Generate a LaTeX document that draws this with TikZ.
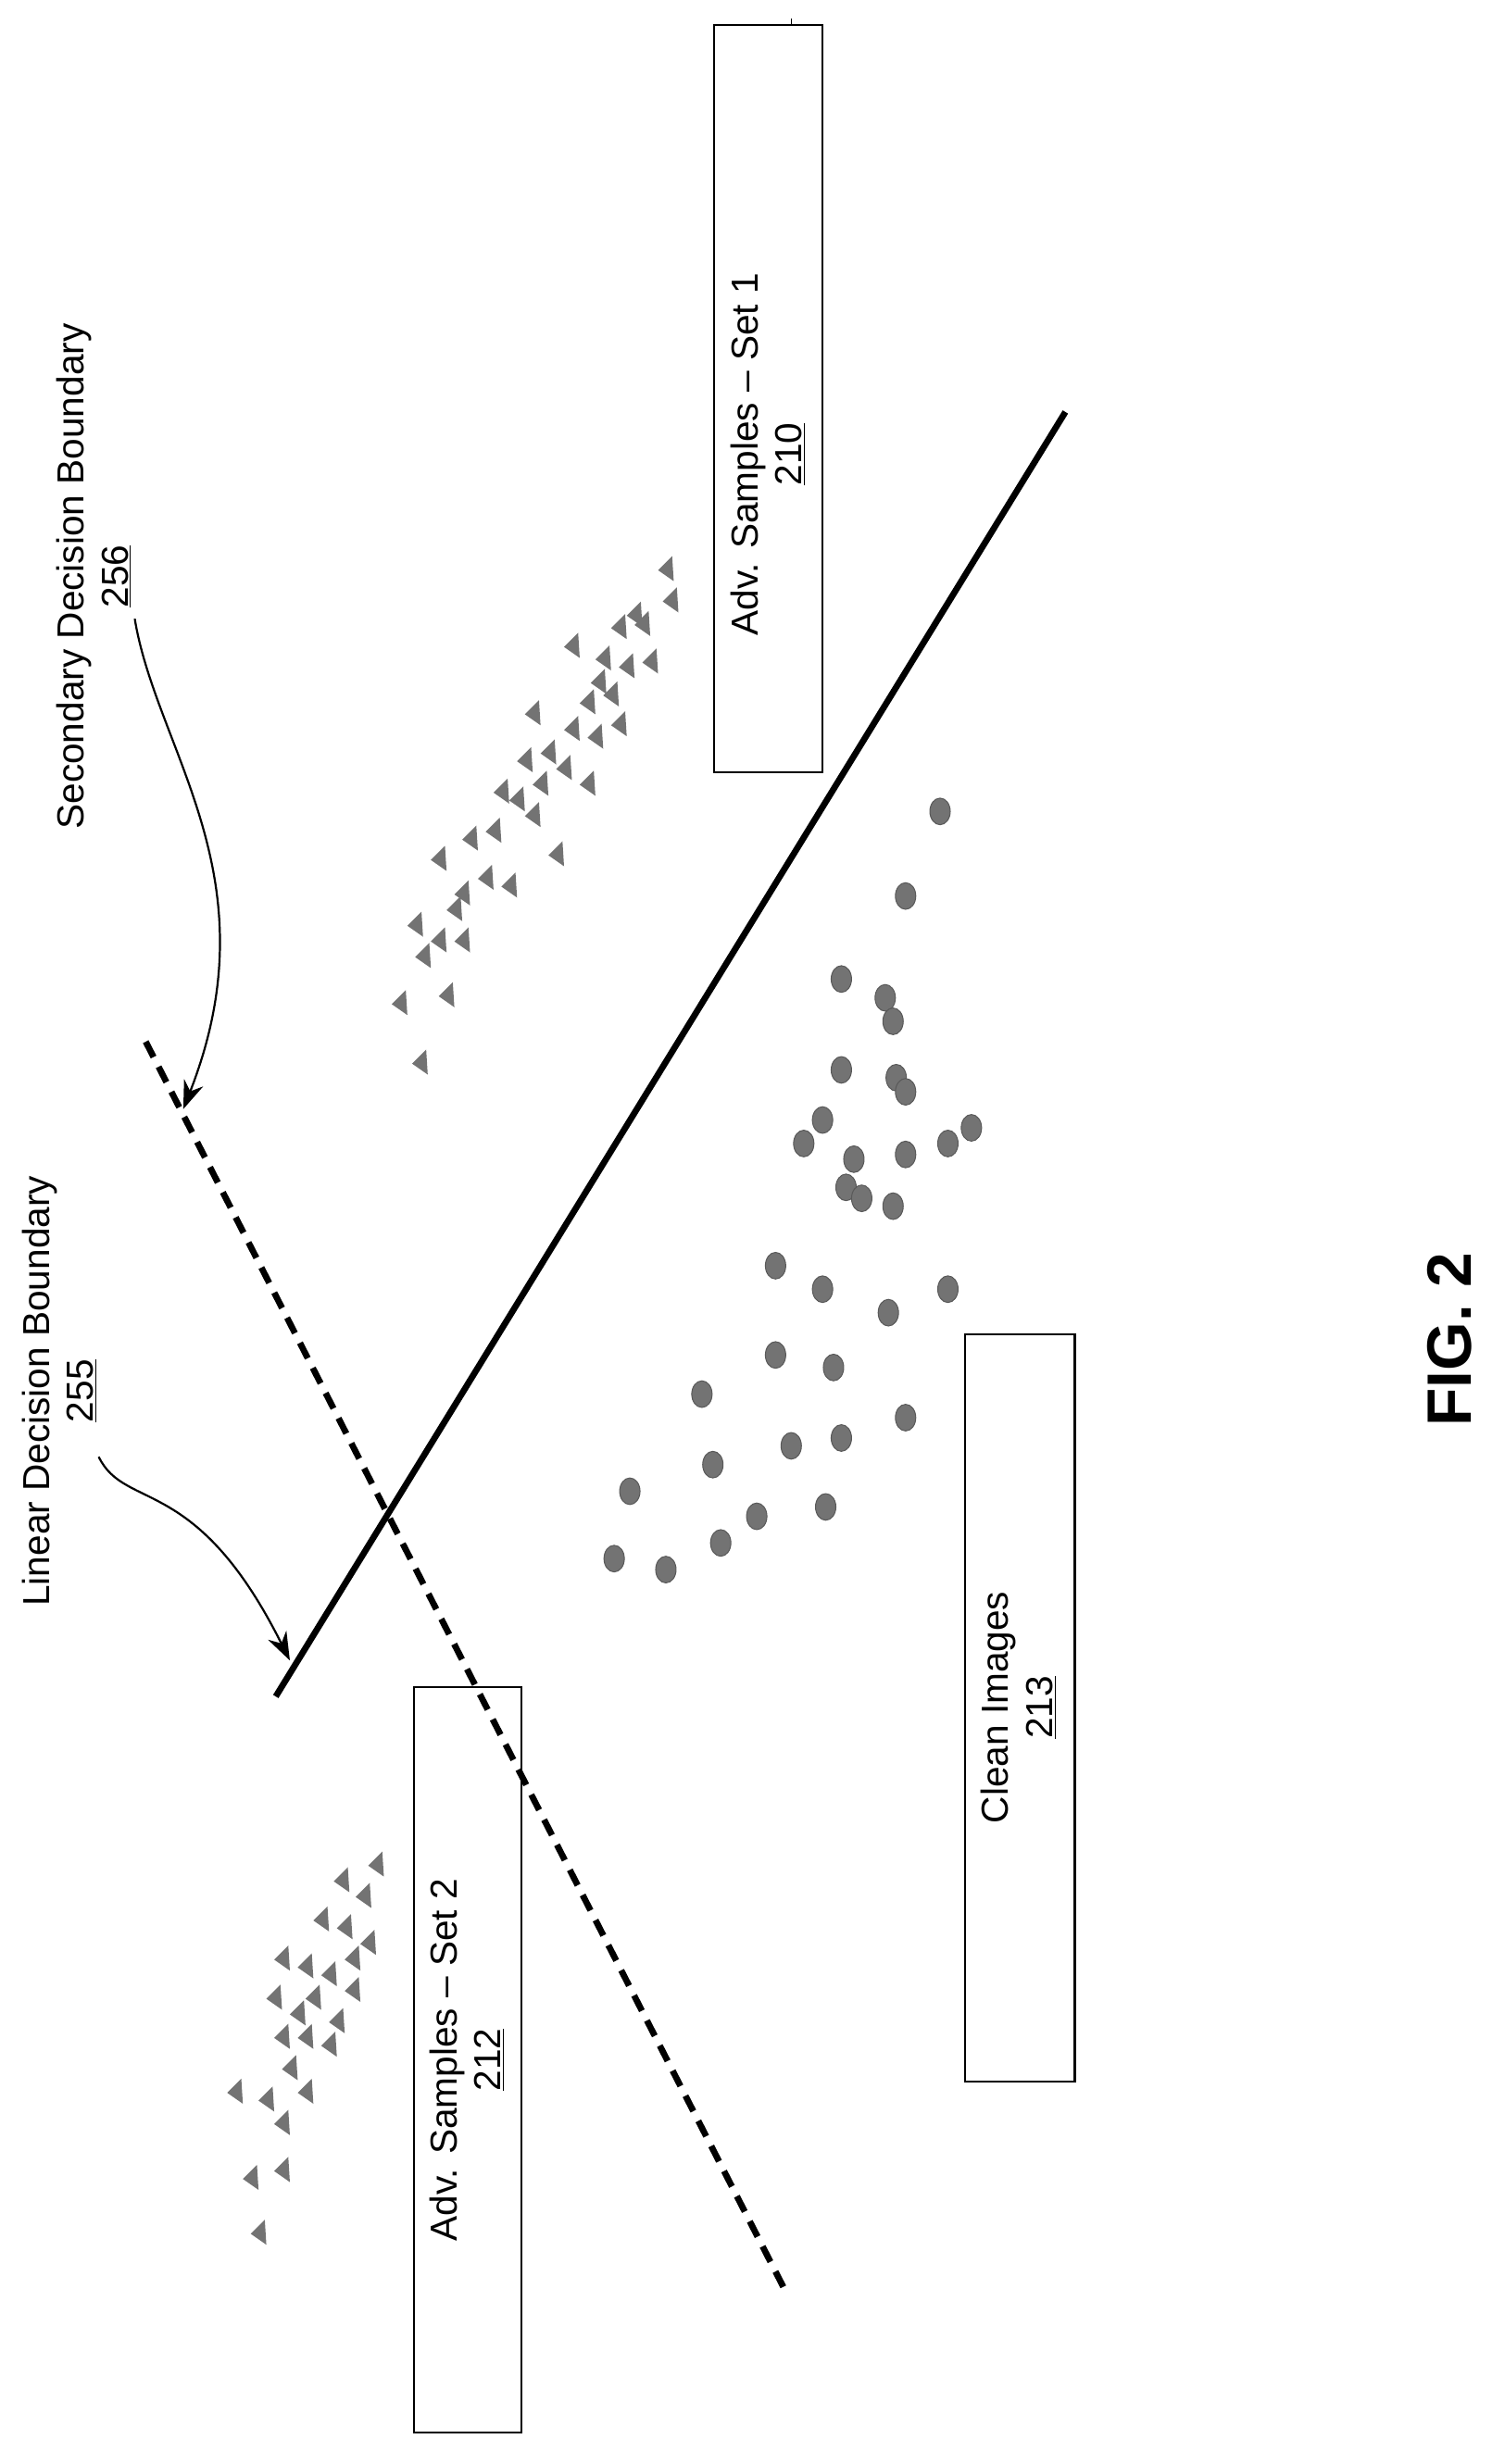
\documentclass[tikz,border=0pt]{standalone}
\usepackage{fontspec}
\setmainfont{Liberation Sans}
\usetikzlibrary{arrows.meta}
\begin{document}
\begin{tikzpicture}[x=1pt,y=-1pt,
  lbl/.style={rotate=90,font=\fontsize{24}{28}\selectfont,align=center,inner sep=0},
  box/.style={draw,line width=1.2pt},
  tri/.style={fill=black!55},
  dot/.style={fill=black!55,draw=black!65,line width=0.6pt}]
\useasboundingbox (0,0) rectangle (960,1573);
% boxes
\draw[box] (456,16) rectangle (525,493);
\draw (505,12) -- (505,16);
\draw[box] (264,1077) rectangle (333,1553);
\draw[box] (616,852) rectangle (686,1329);
\node[lbl] (s1) at (490,290) {Adv. Samples -- Set 1\\\underline{210}};
\node[lbl] (s2) at (298,1315) {Adv. Samples -- Set 2\\\underline{212}};
\node[lbl] (ci) at (650,1090) {Clean Images\\\underline{213}};
% boundaries
\coordinate (la) at (176,1083); \coordinate (lb) at (680,263);
\draw[line width=4pt] (la) -- (lb);
\coordinate (da) at (93,665); \coordinate (db) at (500,1460);
\draw[line width=4pt,dash pattern=on 11pt off 7pt] (da) -- (db);
% labels
\node[lbl] (sdb) at (60,368) {Secondary Decision Boundary\\\underline{256}};
\node[lbl] (ldb) at (38,888) {Linear Decision Boundary\\\underline{255}};
\coordinate (t1) at (117,708); \coordinate (t2) at (185,1060);
\draw[line width=1.3pt,-{Stealth[length=18pt,width=13pt]}] (86,395) .. controls (100,480) and (175,560) .. (t1);
\draw[line width=1.3pt,-{Stealth[length=18pt,width=13pt]}] (63,930) .. controls (80,965) and (125,940) .. (t2);
\node[rotate=90,font=\bfseries\fontsize{40}{44}\selectfont] (fig) at (925,855) {FIG. 2};
% triangles
\foreach \x/\y in {425/363,428/383,405/392,395/400,410/398,365/412,385/420,400/425,415/422,382/435,390/443,375/448,340/455,365/465,380/470,395/462,335/485,360/490,345/500,320/505,375/500,315/530,300/535,355/545,280/548,310/560,295/570,325/565,265/590,290/580,280/600,270/610,295/600,255/640,285/635,268/678,340/520,330/510,350/480,
240/1190,232/1210,218/1200,205/1225,220/1230,235/1240,180/1250,195/1255,210/1260,225/1270,200/1275,175/1275,215/1290,195/1300,210/1305,180/1300,185/1320,195/1335,170/1340,150/1335,180/1355,160/1390,180/1385,165/1425,225/1250,190/1285}
  \fill[tri] (\x+4,\y-8) -- (\x+5,\y+8) -- (\x-5,\y+1) -- cycle;
% dots
\foreach \x/\y in {600/518,578/572,537/625,565/637,570/652,537/683,572/688,578/697,525/715,605/730,620/720,513/730,545/740,578/737,540/758,550/765,570/770,495/808,525/823,567/838,605/823,495/865,532/873,448/890,578/905,505/923,537/918,455/935,402/952,527/962,483/968,460/985,392/995,425/1002}
  \filldraw[dot] (\x,\y) ellipse (6.5pt and 8.5pt);
\end{tikzpicture}
\end{document}
